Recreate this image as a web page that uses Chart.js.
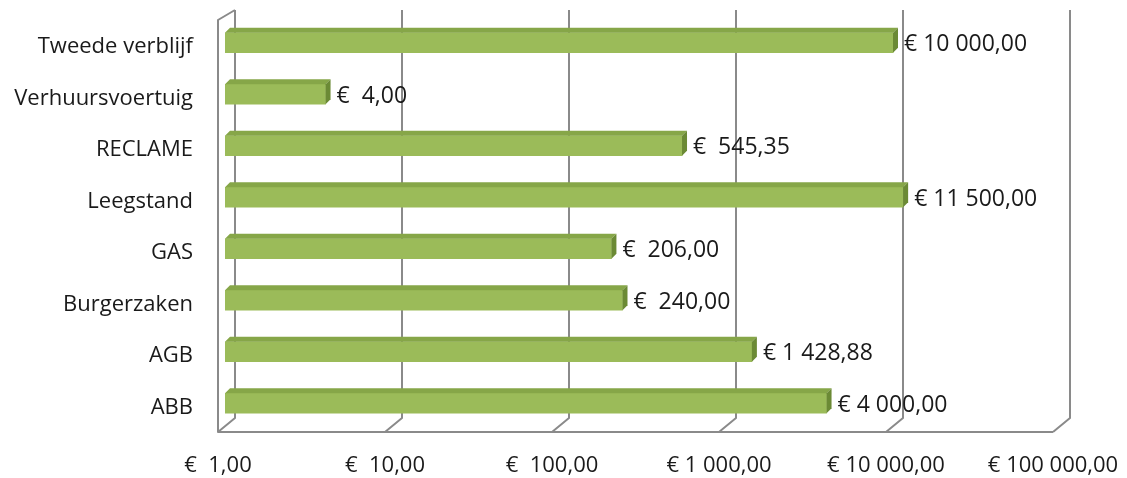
<!DOCTYPE html>
<html>
<head>
<meta charset="utf-8">
<script src="https://cdn.jsdelivr.net/npm/chart.js@4.4.1/dist/chart.umd.min.js"></script>
<style>
html,body{margin:0;padding:0;background:#fff;}
#wrap{width:1127px;height:478px;position:relative;}
</style>
</head>
<body>
<div id="wrap"><canvas id="c" width="1127" height="478"></canvas></div>
<script>
const categories = ["Tweede verblijf","Verhuursvoertuig","RECLAME","Leegstand","GAS","Burgerzaken","AGB","ABB"];
const values = [10000, 4, 545.35, 11500, 206, 240, 1428.88, 4000];
const valueLabels = ["€ 10 000,00","€  4,00","€  545,35","€ 11 500,00","€  206,00","€  240,00","€ 1 428,88","€ 4 000,00"];
const tickValues = [1, 10, 100, 1000, 10000, 100000];
const tickLabels = ["€  1,00","€  10,00","€  100,00","€ 1 000,00","€ 10 000,00","€ 100 000,00"];

const FONT = "'Open Sans', sans-serif";
const DEPTH = 5;
const FRONT = { dx: -7 };
const BACK = { dx: 10 };

const frame3d = {
  id: 'frame3d',
  beforeDatasetsDraw(chart) {
    const ctx = chart.ctx, x = chart.scales.x;
    const topY = 10, backBottom = 418, frontBottom = 432;
    ctx.save();
    ctx.strokeStyle = '#8a8a8a';
    ctx.lineWidth = 2;
    ctx.lineJoin = 'round';
    tickValues.forEach(v => {
      const px = x.getPixelForValue(v);
      ctx.beginPath();
      ctx.moveTo(px + BACK.dx, topY);
      ctx.lineTo(px + BACK.dx, backBottom);
      ctx.lineTo(px + FRONT.dx, frontBottom);
      ctx.stroke();
    });
    const p0 = x.getPixelForValue(tickValues[0]);
    const pN = x.getPixelForValue(tickValues[tickValues.length - 1]);
    ctx.beginPath();
    ctx.moveTo(p0 + BACK.dx, topY);
    ctx.lineTo(p0 + FRONT.dx, topY + 10);
    ctx.lineTo(p0 + FRONT.dx, frontBottom);
    ctx.lineTo(pN + FRONT.dx, frontBottom);
    ctx.stroke();
    ctx.restore();
  },
  afterDatasetsDraw(chart) {
    const ctx = chart.ctx;
    const meta = chart.getDatasetMeta(0);
    ctx.save();
    meta.data.forEach((bar, i) => {
      const h = bar.height, top = bar.y - h / 2, bot = bar.y + h / 2;
      const x0 = bar.base, x1 = bar.x;
      ctx.fillStyle = '#86A648';
      ctx.beginPath();
      ctx.moveTo(x0, top);
      ctx.lineTo(x0 + DEPTH, top - DEPTH);
      ctx.lineTo(x1 + DEPTH, top - DEPTH);
      ctx.lineTo(x1, top);
      ctx.closePath();
      ctx.fill();
      ctx.fillStyle = '#6B8A35';
      ctx.beginPath();
      ctx.moveTo(x1, top);
      ctx.lineTo(x1 + DEPTH, top - DEPTH);
      ctx.lineTo(x1 + DEPTH, bot - DEPTH);
      ctx.lineTo(x1, bot);
      ctx.closePath();
      ctx.fill();
      ctx.fillStyle = '#1a1a1a';
      ctx.font = '23px ' + FONT;
      ctx.textBaseline = 'middle';
      ctx.textAlign = 'left';
      ctx.fillText(valueLabels[i], x1 + DEPTH + 6, bar.y + 2);
    });
    ctx.restore();
  }
};

new Chart(document.getElementById('c'), {
  type: 'bar',
  data: {
    labels: categories,
    datasets: [{
      data: values,
      backgroundColor: '#9BBB59',
      borderWidth: 0,
      barThickness: 20
    }]
  },
  options: {
    indexAxis: 'y',
    responsive: false,
    animation: false,
    layout: { padding: { left: 0, right: 67, top: 17, bottom: 0 } },
    plugins: { legend: { display: false }, tooltip: { enabled: false } },
    scales: {
      x: {
        type: 'logarithmic',
        min: 1,
        max: 100000,
        afterBuildTicks(scale) { scale.ticks = tickValues.map(v => ({ value: v })); },
        afterFit(scale) { scale.height = 49; scale.paddingLeft = 0; scale.paddingRight = 0; },
        grid: { display: false },
        border: { display: false },
        ticks: {
          autoSkip: false,
          maxRotation: 0,
          padding: 16,
          labelOffset: -7,
          color: '#1a1a1a',
          font: { family: FONT, size: 22 },
          callback(value) {
            const i = tickValues.indexOf(value);
            return i >= 0 ? tickLabels[i] : '';
          }
        }
      },
      y: {
        afterFit(scale) { scale.width = 225; scale.paddingTop = 0; scale.paddingBottom = 0; },
        grid: { display: false },
        border: { display: false },
        ticks: {
          padding: 24,
          labelOffset: 4,
          color: '#1a1a1a',
          font: { family: FONT, size: 22 }
        }
      }
    }
  },
  plugins: [frame3d]
});
</script>
</body>
</html>
